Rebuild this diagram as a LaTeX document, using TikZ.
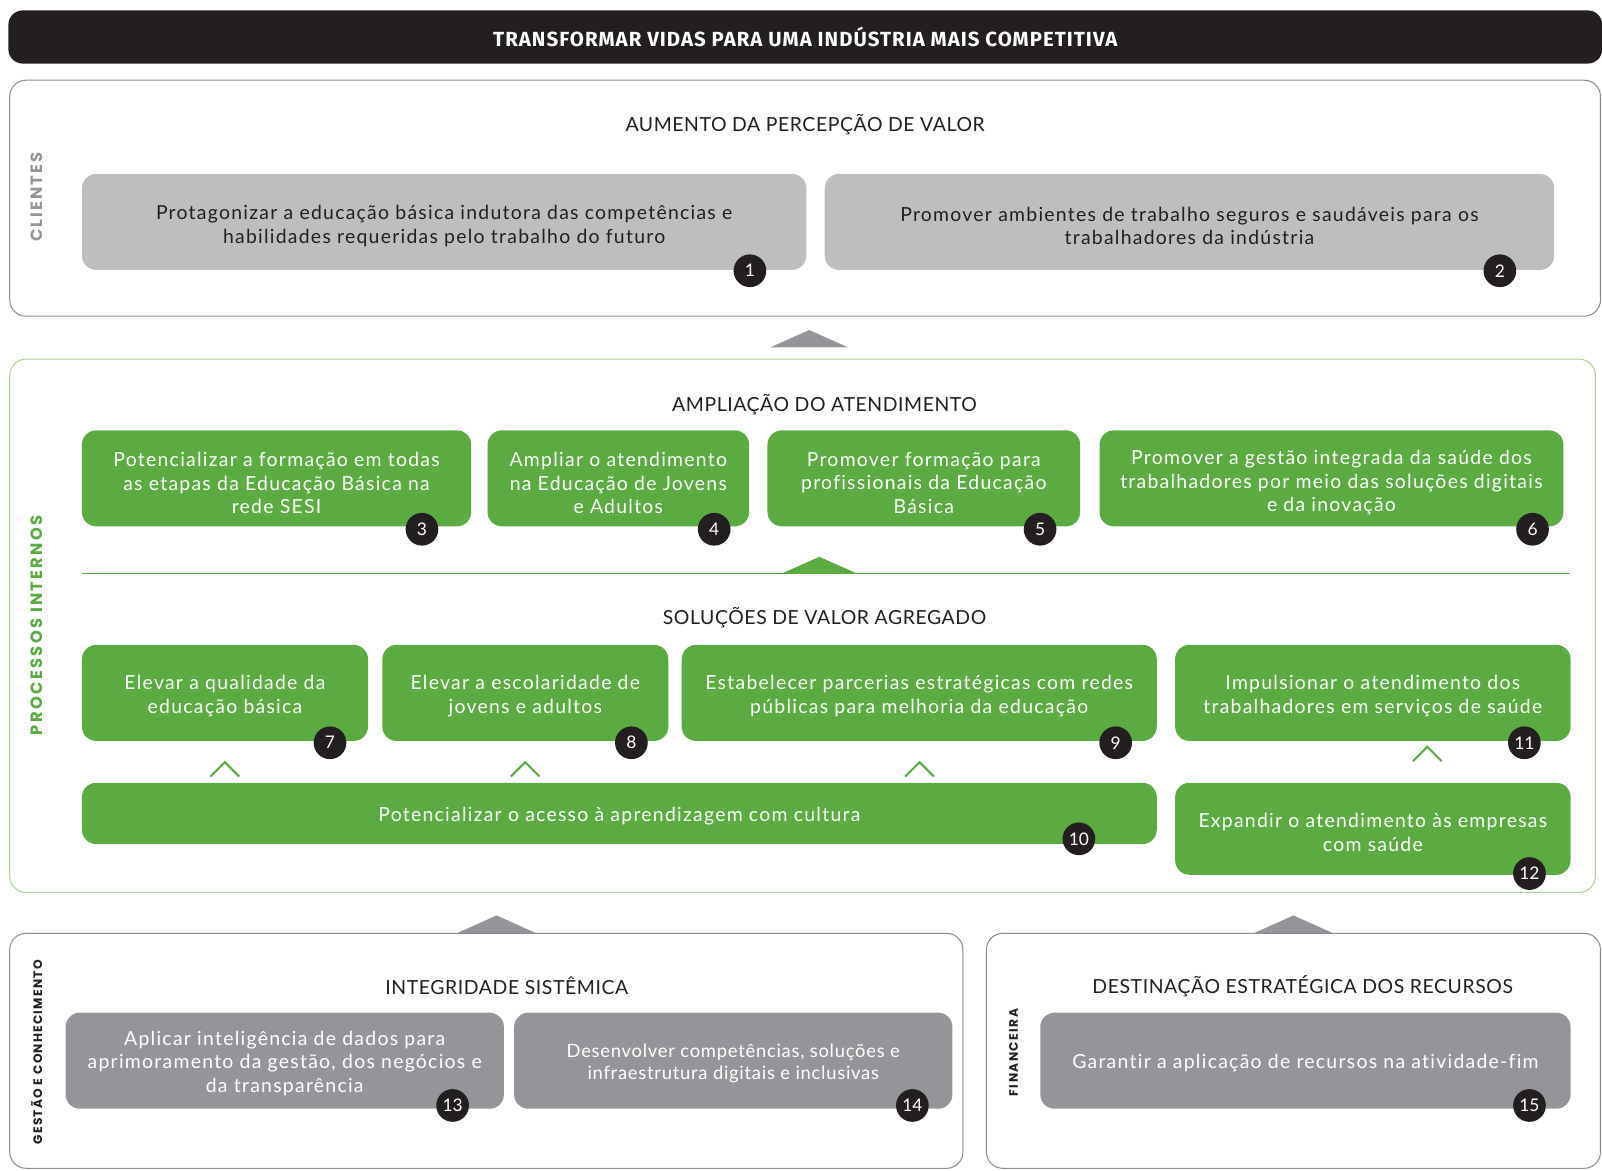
\documentclass[tikz,border=0pt]{standalone}
\usepackage{fontspec}
\setmainfont{Lato}[LetterSpace=6.5,Ligatures=CommonOff]
\newfontfamily\hdrfont{Lato}[LetterSpace=3,Ligatures=CommonOff]
\newfontfamily\tightfont{Lato}[LetterSpace=4,Ligatures=CommonOff]
\newfontfamily\numfont{Lato}
\newfontfamily\headfont{Fira Sans}[LetterSpace=5]
\newfontfamily\sidefont{Poppins}
\definecolor{blk}{HTML}{231F20}
\definecolor{grn}{HTML}{5BAA42}
\definecolor{lgr}{HTML}{BCBEC0}
\definecolor{dgr}{HTML}{939598}
\definecolor{fgr}{HTML}{8A8C8E}
\definecolor{lgn}{HTML}{A8D595}
\definecolor{txt}{HTML}{231F20}
\tikzset{
  boxbase/.style={rounded corners=14pt, inner sep=0pt, anchor=north west},
  lbox/.style={boxbase, fill=lgr},
  gbox/.style={boxbase, fill=grn},
  dbox/.style={boxbase, fill=dgr},
  txtbase/.style={inner sep=0pt, align=center, font=\fontsize{19}{23}\selectfont},
  ltxt/.style={txtbase, text=txt},
  gtxt/.style={txtbase, text=white},
  dtxt/.style={txtbase, text=white},
  badge/.style={circle, fill=blk, text=white, minimum size=32pt, inner sep=0pt, font=\numfont\fontsize{17}{17}\selectfont},
  frame/.style={rounded corners=16pt, draw=fgr, line width=1pt, inner sep=0pt, anchor=north west},
  gframe/.style={frame, draw=lgn},
  hdr/.style={text=txt, font=\hdrfont\fontsize{19}{22}\selectfont},
  chev/.style={draw=grn, line width=2pt},
  side/.style={rotate=90, font=\sidefont\bfseries\fontsize{16}{16}\selectfont},
  smallside/.style={rotate=90, text=blk, font=\sidefont\bfseries\fontsize{12}{12}\selectfont},
  tri/.style={fill=dgr},
}
% #1 name, #2 kind (l/g/d), #3 x, #4 y, #5 w, #6 h, #7 text shift, #8 text
\newcommand\tbox[8]{%
  \node[#2box, minimum width=#5pt, minimum height=#6pt] (#1) at (#3,#4) {};
  \node[#2txt] (#1t) at ([yshift=#7pt]#1.center) {#8};
}
\begin{document}
\begin{tikzpicture}[x=1pt,y=-1pt]
\useasboundingbox (0,0) rectangle (1568,1146);
% title bar
\node[fill=blk, rounded corners=14pt, minimum width=1560pt, minimum height=52pt, anchor=north west, inner sep=0pt,
  text=white, font=\headfont\bfseries\fontsize{20}{20}\selectfont] (title) at (8,10) {TRANSFORMAR VIDAS PARA UMA INDÚSTRIA MAIS COMPETITIVA};

% CLIENTES frame
\node[frame, minimum width=1557pt, minimum height=231pt] (fcli) at (9,78) {};
\node[side, text=dgr] (lcli) at (36,193) {\addfontfeatures{LetterSpace=12}CLIENTES};
\node[hdr] (hcli) at (788,122) {AUMENTO DA PERCEPÇÃO DE VALOR};
\tbox{b1}{l}{80}{170}{709}{94}{-4}{Protagonizar a educação básica indutora das competências e\\habilidades requeridas pelo trabalho do futuro}
\tbox{b2}{l}{807}{170}{714}{94}{-4}{Promover ambientes de trabalho seguros e saudáveis para os\\trabalhadores da indústria}
\node[badge] (n1) at (734,265) {1};
\node[badge] (n2) at (1468,265) {2};

\fill[tri] (754,340) -- (792,323) -- (830,340) -- cycle;

% PROCESSOS INTERNOS frame
\node[gframe, minimum width=1552pt, minimum height=522pt] (fpro) at (9,351) {};
\node[side, text=grn] (lpro) at (36,612) {\addfontfeatures{LetterSpace=14}PROCESSOS INTERNOS};
\node[hdr] (hamp) at (807,396) {AMPLIAÇÃO DO ATENDIMENTO};
\tbox{b3}{g}{80}{421}{381}{94}{-4.5}{Potencializar a formação em todas\\as etapas da Educação Básica na\\rede SESI}
\tbox{b4}{g}{477}{421}{256}{94}{-4.5}{Ampliar o atendimento\\na Educação de Jovens\\e Adultos}
\tbox{b5}{g}{751}{421}{306}{94}{-4.5}{Promover formação para\\profissionais da Educação\\Básica}
\tbox{b6}{g}{1076}{421}{454}{94}{-4.5}{Promover a gestão integrada da saúde dos\\trabalhadores por meio das soluções digitais\\e da inovação}
\node[badge] (n3) at (413,518) {3};
\node[badge] (n4) at (699,518) {4};
\node[badge] (n5) at (1018,518) {5};
\node[badge] (n6) at (1500,518) {6};

\coordinate (la) at (80,561);
\coordinate (lb) at (1537,561);
\draw[grn, line width=1.2pt] (la) -- (lb);
\fill[grn] (766,561) -- (802,545) -- (838,561) -- cycle;

\node[hdr] (hsol) at (807,605) {SOLUÇÕES DE VALOR AGREGADO};
\tbox{b7}{g}{80}{631}{280}{94}{-3}{Elevar a qualidade da\\educação básica}
\tbox{b8}{g}{374}{631}{280}{94}{-3}{Elevar a escolaridade de\\jovens e adultos}
\tbox{b9}{g}{667}{631}{465}{94}{-3}{Estabelecer parcerias estratégicas com redes\\públicas para melhoria da educação}
\tbox{b11}{g}{1150}{631}{387}{94}{-3}{Impulsionar o atendimento dos\\trabalhadores em serviços de saúde}
\node[badge] (n7) at (323,727) {7};
\node[badge] (n8) at (618,727) {8};
\node[badge] (n9) at (1092,727) {9};
\node[badge] (n11) at (1492,727) {11};

\draw[chev] (206,760) -- (220,746) -- (234,760);
\draw[chev] (500,760) -- (514,746) -- (528,760);
\draw[chev] (886,760) -- (900,746) -- (914,760);
\draw[chev] (1383,745) -- (1397,731) -- (1411,745);

\tbox{b10}{g}{80}{766}{1052}{60}{-2.5}{Potencializar o acesso à aprendizagem com cultura}
\tbox{b12}{g}{1150}{766}{387}{90}{-3.5}{Expandir o atendimento às empresas\\com saúde}
\node[badge] (n10) at (1056,821) {10};
\node[badge] (n12) at (1497,855) {12};

\fill[tri] (448,913) -- (486,896) -- (524,913) -- cycle;
\fill[tri] (1228,913) -- (1266,896) -- (1304,913) -- cycle;

% GESTAO frame
\node[frame, minimum width=933pt, minimum height=230pt] (fges) at (9,913) {};
\node[smallside] (lges) at (36,1030) {\addfontfeatures{LetterSpace=10}GESTÃO E CONHECIMENTO};
\node[hdr] (hint) at (496,965) {INTEGRIDADE SISTÊMICA};
\tbox{b13}{d}{64}{991}{429}{94}{-2.5}{Aplicar inteligência de dados para\\aprimoramento da gestão, dos negócios e\\da transparência}
\node[dbox, minimum width=429pt, minimum height=94pt] (b14) at (503,991) {};
\node[dtxt, font=\tightfont\fontsize{18}{22}\selectfont] (b14t) at ([yshift=-2.5pt]b14.center) {Desenvolver competências, soluções e\\infraestrutura digitais e inclusivas};
\node[badge] (n13) at (443,1082) {13};
\node[badge] (n14) at (893,1082) {14};

% FINANCEIRA frame
\node[frame, minimum width=601pt, minimum height=230pt] (ffin) at (965,913) {};
\node[smallside] (lfin) at (992,1030) {\addfontfeatures{LetterSpace=12}FINANCEIRA};
\node[hdr] (hdes) at (1275,965) {DESTINAÇÃO ESTRATÉGICA DOS RECURSOS};
\tbox{b15}{d}{1018}{991}{519}{94}{-2.5}{Garantir a aplicação de recursos na atividade-fim}
\node[badge] (n15) at (1497,1082) {15};
\end{tikzpicture}
\end{document}
